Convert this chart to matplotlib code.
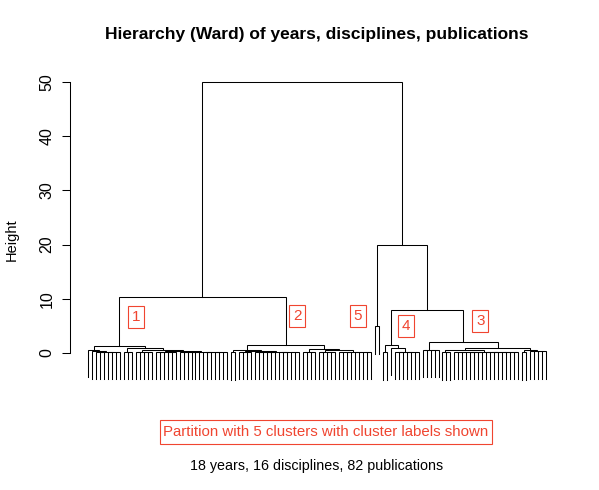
import matplotlib
matplotlib.use("Agg")
import matplotlib.pyplot as plt
from matplotlib.patches import Rectangle

plt.rcParams['font.family'] = ['Liberation Sans', 'DejaVu Sans']

# tree nodes: (merge height, left, right); leaf groups: [number of leaves, merge height]
cluster1 = (1.3, (0.5, [1, 0], (0.3, [1, 0], [7, 0.15])),
            (0.9, [3, 0.2], (0.6, [5, 0.25], (0.4, [6, 0.15], [13, 0.2]))))
cluster2 = (1.5, (0.6, [2, 0.1], (0.4, [4, 0.2], [12, 0.15])),
            (0.7, [4, 0.15], (0.5, [5, 0.2], [9, 0.15])))
cluster5 = (4.9, [1, 0], [1, 0])
cluster4 = (1.5, [2, 0.1], (0.9, [1, 0], [7, 0.2]))
cluster3 = (2.0, [5, 0.55], (0.9, (0.6, [3, 0.1], [17, 0.2]), (0.5, [2, 0.1], [5, 0.3])))
tree = (50.0, (10.3, cluster1, cluster2), (19.9, cluster5, (7.9, cluster4, cluster3)))

cluster_ids = ["1", "2", "5", "4", "3"]
label_x = [12.1, 52.5, 67.8, 79.9, 98.5]
label_y = [6.6, 6.8, 6.8, 5.0, 5.9]

title = "Hierarchy (Ward) of years, disciplines, publications"
subtitle = "18 years, 16 disciplines, 82 publications"
legend_text = "Partition with 5 clusters with cluster labels shown"

hang = 5.0
red = "#f04530"


def expand(node):
    # turn leaf groups into balanced subtrees, leaves become None
    if isinstance(node, list):
        n, h = node
        if n == 1:
            return None
        k = n // 2
        return (h, expand([k, h]), expand([n - k, h]))
    return (node[0], expand(node[1]), expand(node[2]))


fig = plt.figure(figsize=(5.99, 4.9), dpi=100)
ax = fig.add_axes([70 / 599, 1 - 391 / 490, 494 / 599, 320 / 490])


def draw(node, pos):
    if node is None:
        return pos, None, pos + 1
    h, a, b = node
    xa, ha, pos = draw(a, pos)
    xb, hb, pos = draw(b, pos)
    ya = h - hang if ha is None else ha
    yb = h - hang if hb is None else hb
    ax.plot([xa, xa, xb, xb], [ya, h, h, yb], color="black", lw=0.75,
            solid_joinstyle="miter")
    return (xa + xb) / 2, h, pos


draw(expand(tree), 0)

for cid, x, y in zip(cluster_ids, label_x, label_y):
    ax.text(x, y, cid, color=red, fontsize=11, ha="center", va="center",
            bbox=dict(boxstyle="square,pad=0.25", facecolor="white", edgecolor=red, lw=0.8))

ax.set_xlim(-4.5, 119.5)
ax.set_ylim(-7, 52)
for side in ["top", "right", "bottom"]:
    ax.spines[side].set_visible(False)
ax.spines["left"].set_bounds(0, 50)
ax.spines["left"].set_linewidth(0.75)
ax.set_xticks([])
ax.set_yticks(range(0, 51, 10))
ax.tick_params(axis="y", length=6, width=0.75, pad=5, labelsize=11.5, labelrotation=90)
for lab in ax.get_yticklabels():
    lab.set_va("center")

fig.text(12 / 599, 1 - 240 / 490, "Height", rotation=90, ha="center", va="center", fontsize=10.5)
fig.text(317 / 599, 1 - 34 / 490, title, ha="center", va="center", fontsize=12.5, fontweight="bold")
fig.text(317 / 599, 1 - 466 / 490, subtitle, ha="center", va="center", fontsize=10.3)

fig.patches.append(Rectangle((160 / 599, 1 - 444 / 490), 332 / 599, 24 / 490,
                             transform=fig.transFigure, fill=False, edgecolor=red, lw=0.8))
fig.text(326 / 599, 1 - 432 / 490, legend_text, color=red, ha="center", va="center", fontsize=10.8)

fig.savefig("out.png", dpi=100)
